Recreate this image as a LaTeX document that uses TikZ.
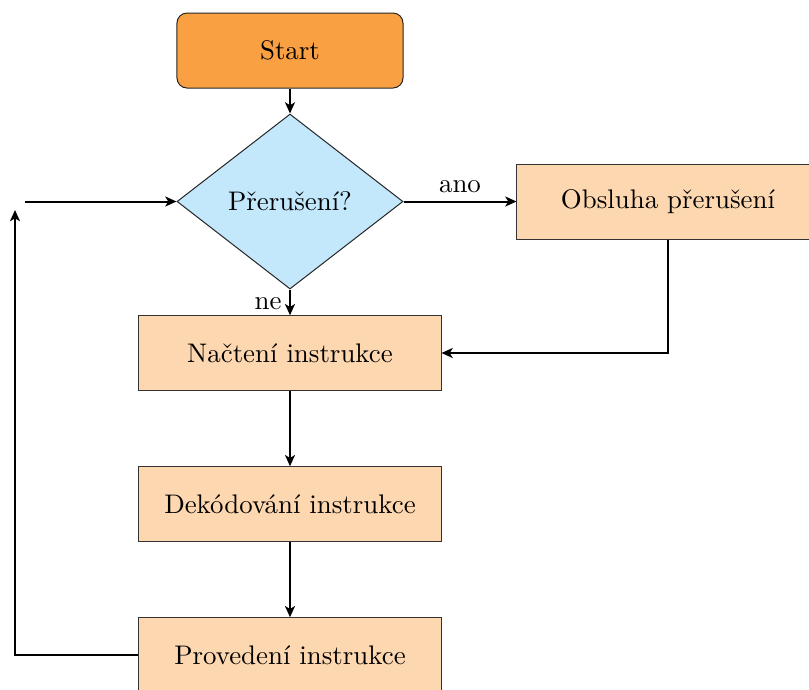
\documentclass[tikz,border=0pt]{standalone}
\usetikzlibrary{shapes.geometric,arrows.meta}
\definecolor{startor}{HTML}{F9A043}
\definecolor{decblue}{HTML}{C3E7FB}
\definecolor{peach}{HTML}{FDD7AF}
\begin{document}
\begin{tikzpicture}[x=0.4pt,y=-0.4pt,
  every node/.style={font=\fontsize{10.75}{13}\selectfont},
  startbox/.style={rectangle,rounded corners=4pt,draw=black!85,fill=startor,minimum width=90.4pt,minimum height=30pt,inner sep=0pt},
  decbox/.style={diamond,draw=black!85,fill=decblue,minimum width=90.4pt,minimum height=70pt,inner sep=0pt},
  procbox/.style={rectangle,draw=black!80,fill=peach,minimum width=120.8pt,minimum height=29.8pt,inner sep=0pt},
  conn/.style={draw=black,line width=0.8pt,-{Stealth[length=4.5pt,width=4pt,inset=1.2pt]}},
  lbl/.style={inner sep=0pt}]
\useasboundingbox (0,0) rectangle (809,689);
\node[startbox] (start) at (290,50.5) {Start};
\node[decbox] (dec) at (290,201.5) {Přerušení?};
\node[procbox,minimum height=30pt] (obs) at (668,201.5) {Obsluha přerušení};
\node[procbox] (nac) at (290,353) {Načtení instrukce};
\node[procbox] (dek) at (290,504) {Dekódování instrukce};
\node[procbox] (pro) at (290,655) {Provedení instrukce};
\coordinate (loopend) at (15,210);
\coordinate (loopcorner) at (15,655);
\coordinate (instart) at (25,201.5);
\draw[conn] (start) -- (dec);
\draw[conn] (dec) -- node[lbl,above=3pt] {ano} (obs);
\draw[conn] (dec) -- node[lbl,left=3pt,pos=0.55] {ne} (nac);
\draw[conn] (obs.south) |- (nac.east);
\draw[conn] (nac) -- (dek);
\draw[conn] (dek) -- (pro);
\draw[conn] (pro.west) -- (loopcorner) -- (loopend);
\draw[conn] (instart) -- (dec.west);
\end{tikzpicture}
\end{document}
